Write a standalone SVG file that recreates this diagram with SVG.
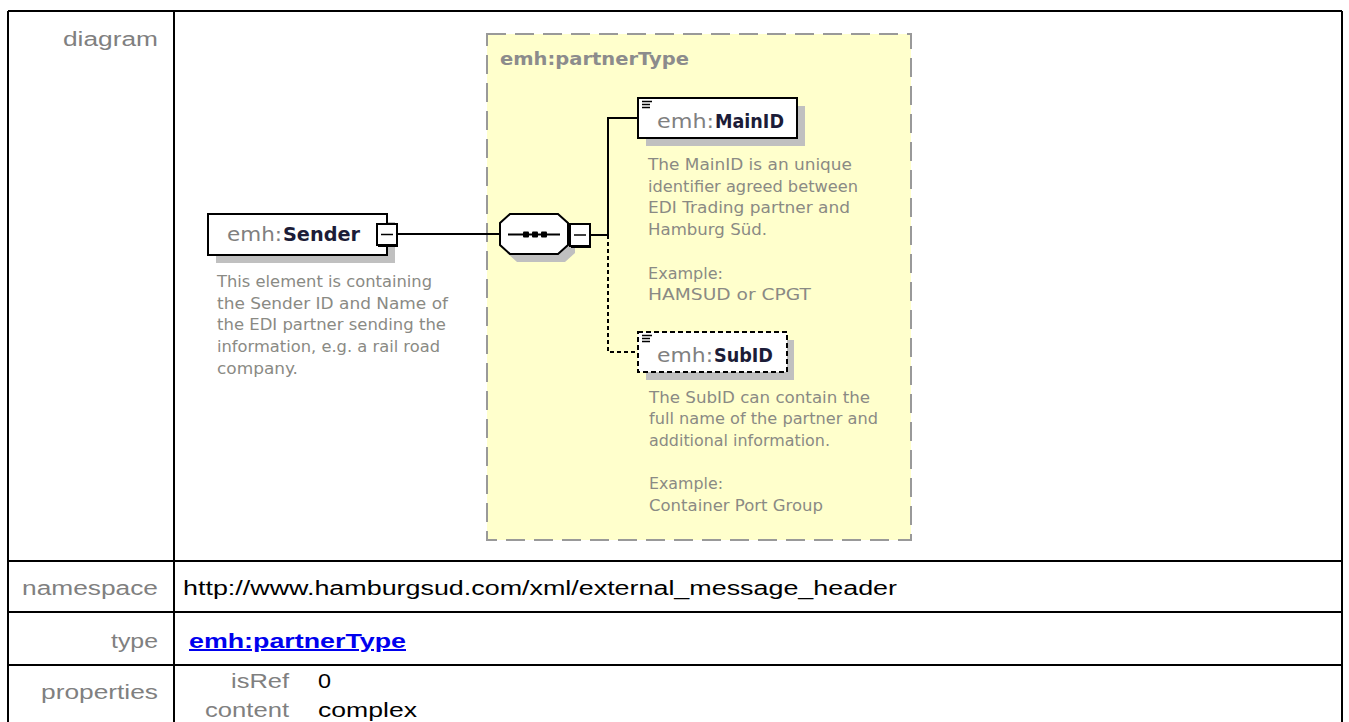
<svg xmlns="http://www.w3.org/2000/svg" width="1349" height="722" viewBox="0 0 1349 722">
<style>
.lbl{font-family:"Liberation Sans",Arial,sans-serif;font-size:20px;fill:#808080}
.val{font-family:"Liberation Sans",Arial,sans-serif;font-size:20px;fill:#000}
.lnk{font-family:"Liberation Sans",Arial,sans-serif;font-size:20px;font-weight:bold;fill:#0000ee;text-decoration:underline}
.desc{font-family:"DejaVu Sans",Verdana,sans-serif;font-size:16.5px;fill:#8a8a84}
.pre{font-family:"DejaVu Sans",Verdana,sans-serif;font-size:20px;fill:#808080}
.nm{font-family:"DejaVu Sans",Verdana,sans-serif;font-size:20px;font-weight:bold;fill:#1c1c38}
.head{font-family:"DejaVu Sans",Verdana,sans-serif;font-size:17px;font-weight:bold;fill:#8c8c8c}
.grid{stroke:#000;stroke-width:2;fill:none}
.shadow{fill:#c0c0c0}
.box{fill:#fff;stroke:#000;stroke-width:2}
.conn{stroke:#000;stroke-width:2;fill:none}
</style>
<rect x="0" y="0" width="1349" height="722" fill="#fff"/>
<g id="table">
<path class="grid" d="M8 11 H1342 M8 11 V730 M174 11 V730 M1342 11 V730 M8 561 H1342 M8 612 H1342 M8 665 H1342"/>
<text class="lbl" x="63" y="46" textLength="95" lengthAdjust="spacingAndGlyphs">diagram</text>
<text class="lbl" x="22" y="595" textLength="136" lengthAdjust="spacingAndGlyphs">namespace</text>
<text class="val" x="183" y="595" textLength="714" lengthAdjust="spacingAndGlyphs">http://www.hamburgsud.com/xml/external_message_header</text>
<text class="lbl" x="111" y="648" textLength="47" lengthAdjust="spacingAndGlyphs">type</text>
<text class="lnk" x="189" y="648" textLength="217" lengthAdjust="spacingAndGlyphs">emh:partnerType</text>
<text class="lbl" x="41" y="699" textLength="117" lengthAdjust="spacingAndGlyphs">properties</text>
<text class="lbl" x="231" y="688" textLength="58" lengthAdjust="spacingAndGlyphs">isRef</text>
<text class="val" x="318" y="688" textLength="13" lengthAdjust="spacingAndGlyphs">0</text>
<text class="lbl" x="205" y="717" textLength="84" lengthAdjust="spacingAndGlyphs">content</text>
<text class="val" x="318" y="717" textLength="99" lengthAdjust="spacingAndGlyphs">complex</text>
</g>
<g id="partnerType">
<rect x="487" y="34" width="424" height="506" fill="#ffffcc" stroke="#999" stroke-width="2" stroke-dasharray="19 9"/>
<text class="head" x="500" y="65" textLength="189" lengthAdjust="spacingAndGlyphs">emh:partnerType</text>
</g>
<g id="connectors">
<path class="conn" d="M398 234 H500"/>
<path class="conn" d="M591 235 H608 V118 H638"/>
<path class="conn" d="M608 235 V352 H638" stroke-dasharray="4 3"/>
</g>
<g id="node-sender">
<rect class="shadow" x="216" y="222" width="179" height="41"/>
<rect class="box" x="208" y="214" width="179" height="41"/>
<text class="pre" x="227" y="241" textLength="55" lengthAdjust="spacingAndGlyphs">emh:</text>
<text class="nm" x="283" y="241" textLength="77" lengthAdjust="spacingAndGlyphs">Sender</text>
<rect class="box" x="377" y="224" width="20" height="21"/>
<path d="M397 225 V246 H378" stroke="#000" stroke-width="2" fill="none"/>
<path d="M381 234.5 H393" stroke="#000" stroke-width="1.5"/>
<text class="desc" x="217" y="287" textLength="215" lengthAdjust="spacingAndGlyphs">This element is containing</text>
<text class="desc" x="217" y="308.7" textLength="231" lengthAdjust="spacingAndGlyphs">the Sender ID and Name of</text>
<text class="desc" x="217" y="330.4" textLength="229" lengthAdjust="spacingAndGlyphs">the EDI partner sending the</text>
<text class="desc" x="217" y="352.1" textLength="223" lengthAdjust="spacingAndGlyphs">information, e.g. a rail road</text>
<text class="desc" x="217" y="373.8" textLength="81" lengthAdjust="spacingAndGlyphs">company.</text>
</g>
<g id="node-sequence">
<polygon class="shadow" points="517,222 565,222 575,231 575,253 565,262 517,262 507,253 507,231"/>
<polygon class="box" points="510,214 558,214 568,223 568,245 558,254 510,254 500,245 500,223"/>
<path d="M508 234.5 H560" stroke="#000" stroke-width="2"/>
<rect x="523" y="231.5" width="6" height="6" rx="1" fill="#000"/>
<rect x="532" y="231.5" width="6" height="6" rx="1" fill="#000"/>
<rect x="541" y="231.5" width="6" height="6" rx="1" fill="#000"/>
<rect class="box" x="570" y="224" width="20" height="22"/>
<path d="M590 225 V247 H571" stroke="#000" stroke-width="2" fill="none"/>
<path d="M574 235 H586" stroke="#000" stroke-width="1.5"/>
</g>
<g id="node-mainid">
<rect class="shadow" x="646" y="106" width="159" height="40"/>
<rect class="box" x="638" y="98" width="159" height="40"/>
<path d="M642 101.5 H652 M642 104.5 H650 M642 107.5 H650" stroke="#000" stroke-width="1.3"/>
<text class="pre" x="657" y="128" textLength="57" lengthAdjust="spacingAndGlyphs">emh:</text>
<text class="nm" x="715" y="128" textLength="69" lengthAdjust="spacingAndGlyphs">MainID</text>
<text class="desc" x="648" y="170" textLength="204" lengthAdjust="spacingAndGlyphs">The MainID is an unique</text>
<text class="desc" x="648" y="191.7" textLength="210" lengthAdjust="spacingAndGlyphs">identifier agreed between</text>
<text class="desc" x="648" y="213.4" textLength="202" lengthAdjust="spacingAndGlyphs">EDI Trading partner and</text>
<text class="desc" x="648" y="235.1" textLength="119" lengthAdjust="spacingAndGlyphs">Hamburg Süd.</text>
<text class="desc" x="648" y="278.5" textLength="75" lengthAdjust="spacingAndGlyphs">Example:</text>
<text class="desc" x="648" y="300.2" textLength="163" lengthAdjust="spacingAndGlyphs">HAMSUD or CPGT</text>
</g>
<g id="node-subid">
<rect class="shadow" x="646" y="340" width="148" height="40"/>
<rect x="638" y="332" width="149" height="40" fill="#fff" stroke="#000" stroke-width="2" stroke-dasharray="5 3"/>
<path d="M642 335.5 H652 M642 338.5 H650 M642 341.5 H650" stroke="#000" stroke-width="1.3"/>
<text class="pre" x="657" y="362" textLength="56" lengthAdjust="spacingAndGlyphs">emh:</text>
<text class="nm" x="714" y="362" textLength="59" lengthAdjust="spacingAndGlyphs">SubID</text>
<text class="desc" x="649" y="402.5" textLength="221" lengthAdjust="spacingAndGlyphs">The SubID can contain the</text>
<text class="desc" x="649" y="424.2" textLength="229" lengthAdjust="spacingAndGlyphs">full name of the partner and</text>
<text class="desc" x="649" y="445.9" textLength="181" lengthAdjust="spacingAndGlyphs">additional information.</text>
<text class="desc" x="649" y="489.3" textLength="74" lengthAdjust="spacingAndGlyphs">Example:</text>
<text class="desc" x="649" y="511" textLength="174" lengthAdjust="spacingAndGlyphs">Container Port Group</text>
</g>
</svg>
